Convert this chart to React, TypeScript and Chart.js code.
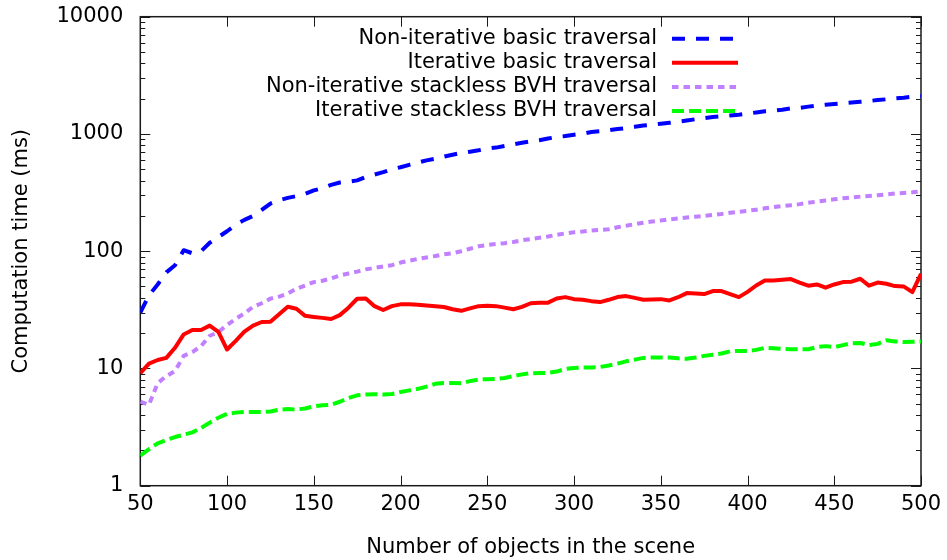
import React, { useEffect, useRef } from 'react';
import { Chart, registerables } from 'chart.js';

Chart.register(...registerables);

const xValues = [
  50, 55, 60, 65, 70, 75, 80, 85, 90, 95,
  100, 105, 110, 115, 120, 125, 130, 135, 140, 145,
  150, 155, 160, 165, 170, 175, 180, 185, 190, 195,
  200, 205, 210, 215, 220, 225, 230, 235, 240, 245,
  250, 255, 260, 265, 270, 275, 280, 285, 290, 295,
  300, 305, 310, 315, 320, 325, 330, 335, 340, 345,
  350, 355, 360, 365, 370, 375, 380, 385, 390, 395,
  400, 405, 410, 415, 420, 425, 430, 435, 440, 445,
  450, 455, 460, 465, 470, 475, 480, 485, 490, 495,
  500,
];

const nonIterativeBasic = [
  30, 42, 52, 66, 76, 102, 96, 100, 118, 132,
  148, 168, 185, 200, 225, 255, 272, 285, 295, 308,
  330, 345, 368, 385, 392, 402, 430, 450, 472, 500,
  520, 545, 570, 595, 615, 640, 665, 688, 705, 725,
  750, 765, 790, 815, 840, 865, 885, 915, 940, 960,
  985, 1005, 1040, 1055, 1075, 1100, 1120, 1150, 1180, 1200,
  1220, 1245, 1270, 1300, 1335, 1365, 1395, 1420, 1440, 1460,
  1490, 1525, 1560, 1580, 1610, 1650, 1670, 1710, 1745, 1775,
  1800, 1830, 1855, 1880, 1910, 1945, 1975, 2010, 2040, 2080,
  2110,
];

const iterativeBasic = [
  9.1, 11.0, 11.8, 12.3, 15.0, 19.5, 21.3, 21.3, 23.2, 20.5,
  14.5, 17.2, 20.6, 23.2, 24.9, 25.0, 29, 33.6, 32.3, 28.1,
  27.5, 27, 26.4, 28.5, 33, 39.3, 39.5, 34.0, 31.5, 34,
  35.2, 35.2, 35, 34.5, 34, 33.4, 32, 31, 32.5, 34,
  34.3, 34, 33, 32, 33.5, 36, 36.4, 36.4, 39.5, 40.6,
  39, 38.6, 37.5, 36.8, 38.5, 40.6, 41.4, 40, 38.6, 38.8,
  39, 38, 40.5, 43.9, 43.5, 43.1, 45.7, 45.7, 43, 40.6,
  45, 51, 56.3, 56.3, 57, 57.8, 54, 50.8, 52.1, 48.8,
  52, 54.5, 55, 58.2, 50.8, 54, 52.8, 50.4, 50.1, 44.8,
  64.2,
];

const nonIterativeStackless = [
  5.2, 4.9, 7.5, 8.6, 9.5, 12.8, 13.8, 15.5, 19.0, 20.4,
  23.5, 26.5, 29.5, 33.5, 36, 39.4, 41, 43.5, 47.9, 51,
  54.5, 56, 58.5, 62, 64.5, 67, 70, 72, 74, 76,
  80, 83, 86, 88.5, 91, 94, 96, 100, 105, 110,
  113, 115, 117, 120, 124, 127, 130, 133.5, 138, 142,
  145, 147, 150, 152, 154, 160, 165, 170, 175, 179,
  183, 187, 190, 194, 197, 200, 204, 208, 213, 217,
  221, 226, 232, 238, 243, 247, 252, 259, 265, 271,
  277, 283, 287, 292, 296, 300, 305, 310, 314, 318,
  324,
];

const iterativeStackless = [
  1.8, 2.05, 2.3, 2.45, 2.6, 2.72, 2.85, 3.1, 3.45, 3.8,
  4.1, 4.2, 4.26, 4.26, 4.26, 4.3, 4.45, 4.5, 4.47, 4.55,
  4.75, 4.85, 4.9, 5.2, 5.6, 5.9, 6.0, 6.03, 6.0, 6.05,
  6.3, 6.5, 6.7, 7.0, 7.4, 7.5, 7.5, 7.48, 7.8, 8.05,
  8.1, 8.14, 8.3, 8.6, 8.9, 9.1, 9.16, 9.16, 9.4, 9.9,
  10.1, 10.2, 10.2, 10.3, 10.6, 11.0, 11.5, 11.9, 12.3, 12.4,
  12.4, 12.4, 12.2, 12.1, 12.4, 12.8, 13.1, 13.4, 14.0, 14.1,
  14.1, 14.4, 15.0, 14.9, 14.7, 14.6, 14.6, 14.6, 15.2, 15.5,
  15.2, 15.8, 16.4, 16.5, 15.8, 16.2, 17.4, 17.0, 16.8, 16.9,
  17.0,
];

const seriesLabels = [
  'Non-iterative basic traversal',
  'Iterative basic traversal',
  'Non-iterative stackless BVH traversal',
  'Iterative stackless BVH traversal',
];

const xTickValues = [50, 100, 150, 200, 250, 300, 350, 400, 450, 500];
const yTickValues = [1, 10, 100, 1000, 10000];

const xTitle = 'Number of objects in the scene';
const yTitle = 'Computation time (ms)';

const FONT = '"DejaVu Sans", Verdana, sans-serif';
const FONT_SIZE = 21;

const framePlugin = {
  id: 'gnuplotFrame',
  beforeDatasetsDraw(chart: any) {
    const { ctx, chartArea: ca, scales } = chart;
    const xs = scales.x;
    const ys = scales.y;
    ctx.save();
    ctx.strokeStyle = '#1a1a1a';
    ctx.lineWidth = 1;
    ctx.beginPath();
    for (const v of xTickValues) {
      const px = Math.round(xs.getPixelForValue(v)) + 0.5;
      ctx.moveTo(px, ca.bottom);
      ctx.lineTo(px, ca.bottom - 10);
      ctx.moveTo(px, ca.top);
      ctx.lineTo(px, ca.top + 10);
    }
    for (let d = 0; d < yTickValues.length; d++) {
      const base = yTickValues[d];
      const py = Math.round(ys.getPixelForValue(base)) + 0.5;
      ctx.moveTo(ca.left, py);
      ctx.lineTo(ca.left + 10, py);
      ctx.moveTo(ca.right, py);
      ctx.lineTo(ca.right - 10, py);
      if (d < yTickValues.length - 1) {
        for (let m = 2; m <= 9; m++) {
          const my = Math.round(ys.getPixelForValue(base * m)) + 0.5;
          ctx.moveTo(ca.left, my);
          ctx.lineTo(ca.left + 5, my);
          ctx.moveTo(ca.right, my);
          ctx.lineTo(ca.right - 5, my);
        }
      }
    }
    ctx.stroke();
    ctx.lineWidth = 1.5;
    ctx.strokeRect(ca.left, ca.top, ca.right - ca.left, ca.bottom - ca.top);
    ctx.restore();
  },
  afterDraw(chart: any) {
    const { ctx, chartArea: ca } = chart;
    const textRight = ca.right - 264;
    const sampleStart = textRight + 15;
    const sampleEnd = sampleStart + 66;
    const rowTop = ca.top + 22;
    const rowGap = 24.1;
    ctx.save();
    ctx.font = `${FONT_SIZE}px ${FONT}`;
    ctx.textAlign = 'right';
    ctx.textBaseline = 'middle';
    chart.data.datasets.forEach((ds: any, i: number) => {
      const y = rowTop + i * rowGap;
      ctx.fillStyle = '#000';
      ctx.fillText(ds.label, textRight, y);
      ctx.save();
      ctx.strokeStyle = ds.borderColor;
      ctx.lineWidth = ds.borderWidth;
      ctx.setLineDash(ds.borderDash || []);
      ctx.lineCap = 'butt';
      ctx.beginPath();
      ctx.moveTo(sampleStart, y);
      ctx.lineTo(sampleEnd, y);
      ctx.stroke();
      ctx.restore();
    });
    ctx.restore();
  },
};

export default function App() {
  const canvasRef = useRef<HTMLCanvasElement | null>(null);

  useEffect(() => {
    const canvas = canvasRef.current;
    if (!canvas) return;
    const mk = (label: string, data: number[], color: string, dash: number[]) => ({
      label,
      data: xValues.map((x, i) => ({ x, y: data[i] })),
      borderColor: color,
      backgroundColor: color,
      borderWidth: 4,
      borderDash: dash,
      borderJoinStyle: 'round',
      borderCapStyle: 'butt',
      pointRadius: 0,
      tension: 0,
      fill: false,
    });
    const chart = new Chart(canvas, {
      type: 'line',
      data: {
        datasets: [
          mk(seriesLabels[0], nonIterativeBasic, '#0000ff', [13, 11]),
          mk(seriesLabels[1], iterativeBasic, '#ff0000', []),
          mk(seriesLabels[2], nonIterativeStackless, '#c080ff', [6.5, 5]),
          mk(seriesLabels[3], iterativeStackless, '#00ff00', [12, 5]),
        ] as any,
      },
      options: {
        responsive: false,
        animation: false,
        devicePixelRatio: 1,
        layout: { padding: { top: 16.7, right: 26, left: 0, bottom: 0 } },
        plugins: {
          legend: { display: false },
          tooltip: { enabled: false },
        },
        scales: {
          x: {
            type: 'linear',
            min: 50,
            max: 500,
            afterBuildTicks: (s: any) => {
              s.ticks = xTickValues.map((v) => ({ value: v }));
            },
            afterFit: (s: any) => {
              s.height = 74.3;
              s.paddingLeft = 0;
              s.paddingRight = 0;
              s.paddingTop = 0;
              s.paddingBottom = 0;
            },
            grid: { display: false, drawTicks: false },
            border: { display: false },
            ticks: {
              color: '#000',
              font: { family: FONT, size: FONT_SIZE },
              padding: 6,
              maxRotation: 0,
              autoSkip: false,
              callback: (v: any) => String(v),
            },
            title: {
              display: true,
              text: xTitle,
              color: '#000',
              font: { family: FONT, size: FONT_SIZE },
              padding: { top: 0, bottom: 0 },
            },
          },
          y: {
            type: 'logarithmic',
            min: 1,
            max: 10000,
            afterBuildTicks: (s: any) => {
              s.ticks = yTickValues.map((v) => ({ value: v }));
            },
            afterFit: (s: any) => {
              s.width = 140.3;
              s.paddingLeft = 0;
              s.paddingRight = 0;
              s.paddingTop = 0;
              s.paddingBottom = 0;
            },
            grid: { display: false, drawTicks: false },
            border: { display: false },
            ticks: {
              color: '#000',
              font: { family: FONT, size: FONT_SIZE },
              padding: 17,
              autoSkip: false,
              callback: (v: any) => String(v),
            },
            title: {
              display: true,
              text: yTitle,
              color: '#000',
              font: { family: FONT, size: FONT_SIZE },
              padding: { top: 8.5, bottom: 0 },
            },
          },
        },
      } as any,
      plugins: [framePlugin],
    });
    return () => chart.destroy();
  }, []);

  return (
    <div style={{ position: 'absolute', left: 0, top: 0, width: 947, height: 560, background: '#fff' }}>
      <canvas ref={canvasRef} width={947} height={560} style={{ display: 'block', width: 947, height: 560 }} />
    </div>
  );
}
